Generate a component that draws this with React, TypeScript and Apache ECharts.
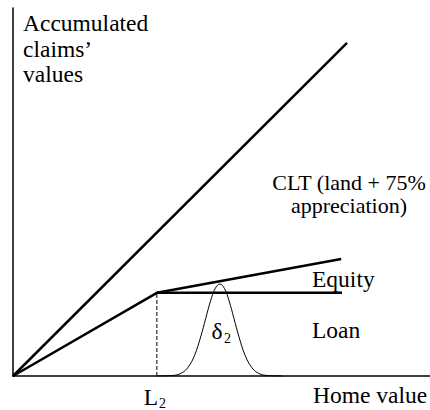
import React, { useEffect, useRef } from "react";
import * as echarts from "echarts";

// Abstract units: x (home value) 0..10, y (accumulated claims' value) 0..10
const cltLine = [[0, 0], [8.01, 9.05]];
const equityLine = [[0, 0], [3.45, 2.26], [7.87, 3.18]];
const loanLine = [[3.45, 2.26], [7.89, 2.26]];
const l2Marker = [[3.45, 0], [3.45, 2.26]];
const bellX = [3.45, 3.85, 4.05, 4.2, 4.35, 4.5, 4.62, 4.74, 4.85, 4.96, 5.07, 5.18, 5.3, 5.42, 5.57, 5.72, 5.87, 6.07, 6.47];
const bellY = [0, 0.016, 0.085, 0.24, 0.55, 1.06, 1.56, 2.05, 2.38, 2.5, 2.38, 2.05, 1.56, 1.06, 0.55, 0.24, 0.085, 0.016, 0];

const yTitle = ["Accumulated", "claims\u2019", "values"];
const cltLabel = ["CLT (land + 75%", "appreciation)"];

const FONT = "'Liberation Serif', 'Times New Roman', 'DejaVu Serif', serif";
const FS = 23.5;

export default function App() {
  const ref = useRef<HTMLDivElement>(null);
  useEffect(() => {
    if (!ref.current) return;
    const chart = echarts.init(ref.current, undefined, { renderer: "svg" });
    const txt = (text: string, x: number, y: number, align: string = "left", size = FS) => ({
      type: "text",
      x,
      y,
      style: {
        text,
        fill: "#000",
        fontFamily: FONT,
        fontSize: size,
        align,
        verticalAlign: "middle",
      },
    });
    const lineSeries = (data: number[][], width: number, type: string = "solid") => ({
      type: "line",
      data,
      showSymbol: false,
      symbol: "none",
      lineStyle: { color: "#000", width, type },
      silent: true,
    });
    chart.setOption({
      animation: false,
      backgroundColor: "#fff",
      textStyle: { fontFamily: FONT },
      grid: { left: 13, right: 0, top: 8, bottom: 34 },
      xAxis: {
        type: "value",
        min: 0,
        max: 10,
        axisLine: { show: true, lineStyle: { color: "#000", width: 1.5 } },
        axisTick: { show: false },
        axisLabel: { show: false },
        splitLine: { show: false },
      },
      yAxis: {
        type: "value",
        min: 0,
        max: 10,
        axisLine: { show: true, lineStyle: { color: "#000", width: 1.5 } },
        axisTick: { show: false },
        axisLabel: { show: false },
        splitLine: { show: false },
      },
      series: [
        lineSeries(cltLine, 2.5),
        lineSeries(equityLine, 2.5),
        lineSeries(loanLine, 2.5),
        lineSeries(l2Marker, 1, "dashed"),
        {
          ...lineSeries(bellX.map((x, i) => [x, bellY[i]]), 1),
          smooth: 0.4,
        },
      ],
      graphic: [
        ...yTitle.map((t, i) => txt(t, 23, 23 + i * 25.5)),
        ...cltLabel.map((t, i) => txt(t, 349, 182 + i * 23, "center", 22)),
        txt("Equity", 312, 279),
        txt("Loan", 312, 330),
        txt("Home value", 313, 395),
        txt("L", 151, 397, "center"),
        txt("2", 162.5, 403, "center", 14),
        txt("\u03b4", 217, 331, "center"),
        txt("2", 227.5, 338, "center", 14),
      ],
    });
    return () => chart.dispose();
  }, []);
  return <div ref={ref} style={{ position: "fixed", left: 0, top: 0, width: 430, height: 410 }} />;
}
